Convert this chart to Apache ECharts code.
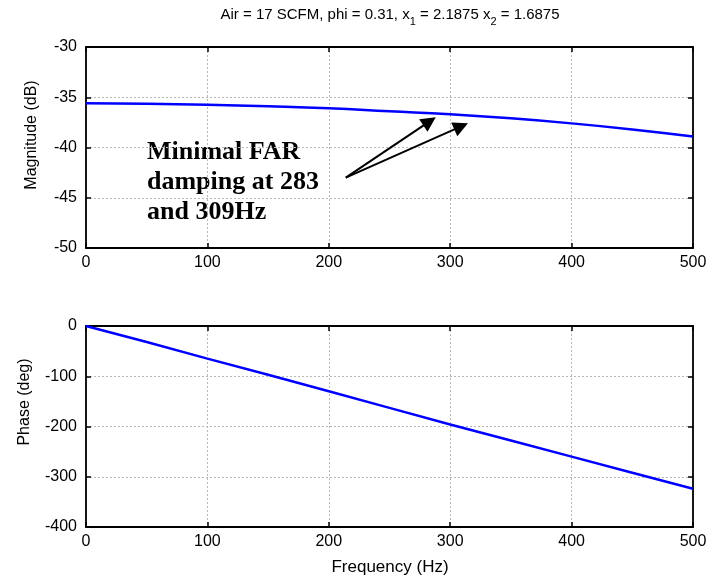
<!DOCTYPE html>
<html>
<head>
<meta charset="utf-8">
<script src="https://cdn.jsdelivr.net/npm/echarts@6/dist/echarts.min.js"></script>
<style>
  html, body { margin: 0; padding: 0; background: #fff; }
  #chart { width: 710px; height: 581px; }
</style>
</head>
<body>
<div id="chart"></div>
<script>
// Frequency response of the combustor (Air = 17 SCFM, phi = 0.31)
const freqHz = [0, 50, 100, 150, 200, 250, 300, 350, 400, 450, 500];
const magnitudeDb = [-35.6, -35.65, -35.75, -35.9, -36.1, -36.4, -36.7, -37.1, -37.6, -38.2, -38.9];
const phaseDeg = [0, -32, -65, -97, -130, -163, -196, -228, -260, -292, -324];

// Annotation arrows: shared tail, heads at the two FAR damping minima
const arrowTail = [214, -43.0];
const arrowHeads = [[283, -37.4], [309, -37.9]];

const titleText = 'Air = 17 SCFM, phi = 0.31, x{s|1} = 2.1875 x{s|2} = 1.6875';
const noteText = 'Minimal FAR\ndamping at 283\nand 309Hz';

const FONT = '"Liberation Sans", Arial, Helvetica, sans-serif';
const SERIF = '"Liberation Serif", "Times New Roman", serif';

const axisLine = { show: true, onZero: false, lineStyle: { color: '#000', width: 1.8 } };
const gridLine = { show: true, lineStyle: { color: '#b8b8b8', type: [2, 2], width: 1 } };
const tickIn = { show: true, inside: true, length: 5, lineStyle: { color: '#000', width: 1.5 } };
const tickLabel = { color: '#000', fontSize: 16, fontFamily: FONT };

function xAxes(gridIndex) {
  return [
    { type: 'value', gridIndex, min: 0, max: 500, interval: 100, position: 'bottom',
      axisLine, axisTick: tickIn, splitLine: gridLine,
      axisLabel: Object.assign({ margin: 7 }, tickLabel) },
    { type: 'value', gridIndex, min: 0, max: 500, interval: 100, position: 'top',
      axisLine, axisTick: tickIn, splitLine: { show: false }, axisLabel: { show: false } }
  ];
}
function yAxes(gridIndex, min, max, interval) {
  return [
    { type: 'value', gridIndex, min, max, interval, position: 'left',
      axisLine, axisTick: tickIn, splitLine: gridLine,
      axisLabel: Object.assign({ margin: 9 }, tickLabel) },
    { type: 'value', gridIndex, min, max, interval, position: 'right',
      axisLine, axisTick: tickIn, splitLine: { show: false }, axisLabel: { show: false } }
  ];
}

const chart = echarts.init(document.getElementById('chart'), null, { renderer: 'canvas' });

chart.setOption({
  animation: false,
  backgroundColor: '#fff',
  grid: [
    { left: 86, right: 17, top: 47, height: 201 },
    { left: 86, right: 17, top: 326, height: 201 }
  ],
  xAxis: [...xAxes(0), ...xAxes(1)],
  yAxis: [...yAxes(0, -50, -30, 5), ...yAxes(1, -400, 0, 100)],
  series: [
    {
      name: 'Magnitude', type: 'line', xAxisIndex: 0, yAxisIndex: 0,
      data: freqHz.map((f, i) => [f, magnitudeDb[i]]),
      showSymbol: false, smooth: true, lineStyle: { color: '#0000ff', width: 2.5 },
      markLine: {
        silent: true,
        symbol: ['none', 'triangle'],
        symbolSize: 15,
        label: { show: false },
        lineStyle: { color: '#000', width: 2, type: 'solid' },
        data: arrowHeads.map(h => [{ coord: arrowTail }, { coord: h }])
      }
    },
    {
      name: 'Phase', type: 'line', xAxisIndex: 2, yAxisIndex: 2,
      data: freqHz.map((f, i) => [f, phaseDeg[i]]),
      showSymbol: false, lineStyle: { color: '#0000ff', width: 2.5 }
    }
  ],
  graphic: [
    { type: 'text', x: 390, y: 15,
      style: { text: titleText, align: 'center', verticalAlign: 'middle',
        fontFamily: FONT, fontSize: 15, fill: '#000',
        rich: { s: { fontSize: 11, fontFamily: FONT, padding: [14, 0, 0, 0] } } } },
    { type: 'text', x: 32, y: 135, rotation: Math.PI / 2,
      style: { text: 'Magnitude (dB)', align: 'center', verticalAlign: 'middle',
        fontFamily: FONT, fontSize: 16, fill: '#000' } },
    { type: 'text', x: 25, y: 402, rotation: Math.PI / 2,
      style: { text: 'Phase (deg)', align: 'center', verticalAlign: 'middle',
        fontFamily: FONT, fontSize: 16, fill: '#000' } },
    { type: 'text', x: 390, y: 567,
      style: { text: 'Frequency (Hz)', align: 'center', verticalAlign: 'middle',
        fontFamily: FONT, fontSize: 17, fill: '#000' } },
    { type: 'text', x: 147, y: 137,
      style: { text: noteText, align: 'left', verticalAlign: 'top',
        fontFamily: SERIF, fontWeight: 'bold', fontSize: 26, lineHeight: 30, fill: '#000' } }
  ]
});
</script>
</body>
</html>
